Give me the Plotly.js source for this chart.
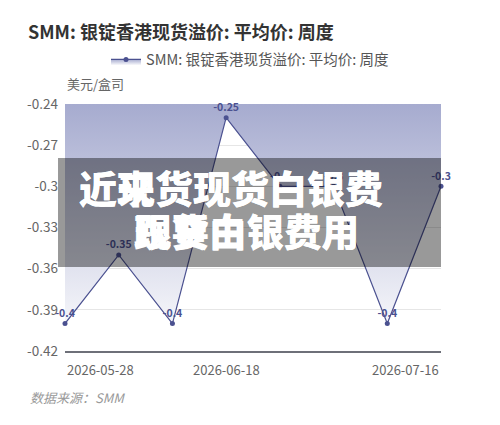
<!DOCTYPE html>
<html>
<head>
<meta charset="utf-8">
<script src="https://cdn.plot.ly/plotly-3.0.1.min.js"></script>
<style>
  html, body { margin: 0; padding: 0; background: #fff; }
  #chart { width: 500px; height: 425px; }
</style>
</head>
<body>
<div id="chart"></div>
<script>
// ─── Data ─────────────────────────────────────────────────────────────────────
const dates  = ['2026-05-28', '2026-06-04', '2026-06-11', '2026-06-18',
                '2026-06-25', '2026-07-02', '2026-07-09', '2026-07-16'];
const values = [-0.40, -0.35, -0.40, -0.25, -0.30, -0.30, -0.40, -0.30];

const yTickVals  = [-0.42, -0.39, -0.36, -0.33, -0.30, -0.27, -0.24];
const yTickText  = ['-0.42', '-0.39', '-0.36', '-0.33', '-0.3', '-0.27', '-0.24'];
const xLabelDates = ['2026-05-28', '2026-06-18', '2026-07-16'];
const xLabelAlign = ['left', 'center', 'right'];

const seriesName = 'SMM: 银锭香港现货溢价: 平均价: 周度';
const unitLabel  = '美元/盒司';
const sourceText = '数据来源：SMM';

// overlay banner text (two captions drawn on top of each other)
const bannerLine1 = ['近来货现货白银费', '近现货现货白银费'];
const bannerLine2 = ['现货白银费用', '跟要由银费用'];

const yMin = -0.42;
const yMax = -0.24;

const INK   = '#4b5190';
const FONT  = '"Noto Sans CJK SC", "Noto Sans", sans-serif';

// ─── Traces ───────────────────────────────────────────────────────────────────
// top boundary so the area fills from the line up to the axis top
const topEdge = {
  x: dates,
  y: dates.map(() => yMax),
  type: 'scatter',
  mode: 'lines',
  line: { width: 0 },
  showlegend: false,
  hoverinfo: 'skip',
};

const series = {
  x: dates,
  y: values,
  type: 'scatter',
  mode: 'lines+markers+text',
  name: seriesName,
  fill: 'tonexty',
  fillgradient: {
    type: 'vertical',
    start: yMin,
    stop: yMax,
    colorscale: [[0, '#ffffff'], [1, '#a6abcf']],
  },
  line: { color: INK, width: 1.2 },
  marker: { color: INK, size: 5 },
  text: values.map(v => String(v)),
  textposition: 'top center',
  textfont: { color: INK, size: 10.5, family: FONT, weight: 'bold' },
  cliponaxis: false,
  hoverinfo: 'skip',
};

// ─── Annotations ──────────────────────────────────────────────────────────────
const xLabels = xLabelDates.map((d, i) => ({
  x: d, xref: 'x',
  y: 0, yref: 'paper',
  yanchor: 'top', yshift: -7,
  xanchor: xLabelAlign[i],
  text: d,
  showarrow: false,
  font: { size: 13, color: '#666', family: FONT },
}));

const banner = [];
bannerLine1.forEach(t => banner.push({
  x: 0.4415, xref: 'paper', y: 0.664, yref: 'paper',
  xanchor: 'center', yanchor: 'middle',
  text: t, showarrow: false,
  font: { size: 38, color: '#ffffff', family: FONT, weight: 900 },
}));
bannerLine2.forEach(t => banner.push({
  x: 0.484, xref: 'paper', y: 0.49, yref: 'paper',
  xanchor: 'center', yanchor: 'middle',
  text: t, showarrow: false,
  font: { size: 37.5, color: '#ffffff', family: FONT, weight: 900 },
}));

const layout = {
  width: 500,
  height: 425,
  paper_bgcolor: '#ffffff',
  plot_bgcolor:  '#ffffff',
  font: { family: FONT, color: '#666' },
  margin: { t: 104, b: 74, l: 65, r: 59 },
  title: {
    text: '<b>' + seriesName + '</b>',
    x: 0.056, xanchor: 'left', xref: 'container',
    y: 0.922, yanchor: 'middle', yref: 'container',
    font: { size: 18, color: '#333', family: FONT },
  },
  showlegend: true,
  legend: {
    orientation: 'h',
    xref: 'container', yref: 'container',
    x: 0.5, xanchor: 'center',
    y: 0.86, yanchor: 'middle',
    font: { size: 14.5, color: '#555', family: FONT },
    bgcolor: 'rgba(0,0,0,0)',
  },
  xaxis: {
    type: 'date',
    range: [dates[0], dates[dates.length - 1]],
    showticklabels: false,
    showgrid: false,
    zeroline: false,
    showline: true,
    linecolor: '#6e7079',
    linewidth: 1.5,
    ticks: '',
  },
  yaxis: {
    range: [yMin, yMax],
    tickvals: yTickVals,
    ticktext: yTickText,
    tickfont: { size: 13.5, color: '#666', family: FONT },
    ticklabelstandoff: 6,
    showgrid: true,
    gridcolor: '#e6e6e6',
    zeroline: false,
    showline: false,
    ticks: '',
  },
  shapes: [{
    type: 'rect', layer: 'above',
    xref: 'paper', yref: 'paper',
    x0: -0.0186, x1: 1.0, y0: 0.34, y1: 0.781,
    fillcolor: 'rgba(0,0,0,0.4)',
    line: { width: 0 },
  }],
  annotations: [
    {
      x: 0, xref: 'paper', xanchor: 'left',
      y: 1.085, yref: 'paper', yanchor: 'middle',
      text: unitLabel, showarrow: false,
      font: { size: 13, color: '#666', family: FONT },
    },
    {
      x: -0.098, xref: 'paper', xanchor: 'left',
      y: -0.19, yref: 'paper', yanchor: 'middle',
      text: sourceText, showarrow: false,
      font: { size: 13, color: '#999', family: FONT, style: 'italic' },
    },
    ...xLabels,
    ...banner,
  ],
  hovermode: false,
};

Plotly.newPlot('chart', [topEdge, series], layout, { displayModeBar: false, staticPlot: true });
</script>
</body>
</html>
